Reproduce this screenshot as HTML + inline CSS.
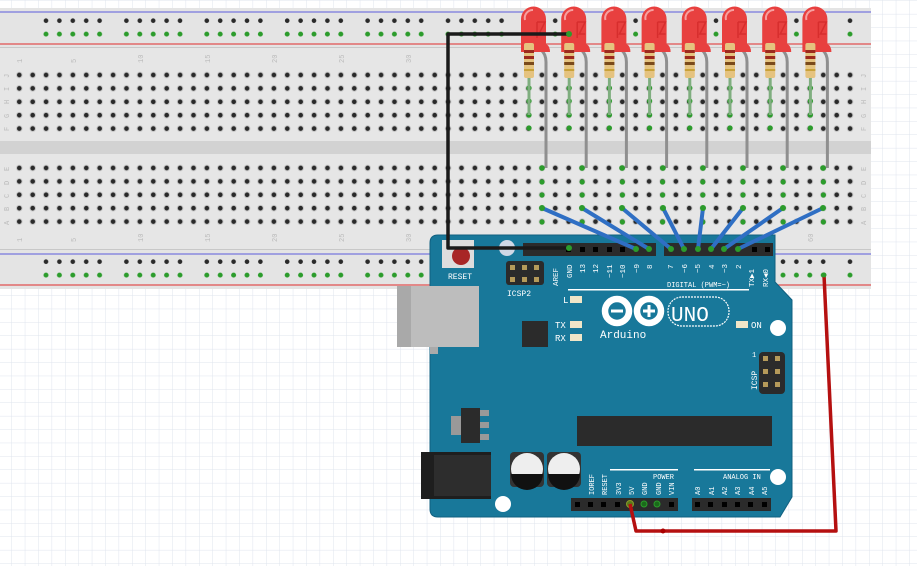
<!DOCTYPE html>
<html><head><meta charset="utf-8"><style>
html,body{margin:0;padding:0;background:#fff}
svg{display:block}
text{font-family:"Liberation Mono","DejaVu Sans Mono",monospace}
</style></head><body>
<svg width="917" height="566" viewBox="0 0 917 566" xmlns="http://www.w3.org/2000/svg">
<defs>
<pattern id="grid" x="-1.5" y="1" width="13.4" height="13.4" patternUnits="userSpaceOnUse">
<path d="M13.4 0V13.4M0 13.4H13.4" stroke="#dfe4ee" stroke-width="1" fill="none"/>
</pattern>
<pattern id="holes" x="12.6" y="68.3" width="13.4" height="13.4" patternUnits="userSpaceOnUse">
<circle cx="6.7" cy="6.7" r="3.3" fill="#c8c8c8"/><circle cx="6.7" cy="6.7" r="2.3" fill="#2a2a2a"/>
</pattern>
<pattern id="holes2" x="12.6" y="161.3" width="13.4" height="13.4" patternUnits="userSpaceOnUse">
<circle cx="6.7" cy="6.7" r="3.3" fill="#c8c8c8"/><circle cx="6.7" cy="6.7" r="2.3" fill="#2a2a2a"/>
</pattern>
<pattern id="railD" x="39.3" y="14" width="80.4" height="13.4" patternUnits="userSpaceOnUse">
<g fill="#2a2a2a"><circle cx="6.7" cy="6.7" r="2.3"/><circle cx="20.1" cy="6.7" r="2.3"/><circle cx="33.5" cy="6.7" r="2.3"/><circle cx="46.9" cy="6.7" r="2.3"/><circle cx="60.3" cy="6.7" r="2.3"/></g>
</pattern>
<pattern id="railG" x="39.3" y="27.4" width="80.4" height="13.4" patternUnits="userSpaceOnUse">
<g fill="#2c9c2c"><circle cx="6.7" cy="6.7" r="2.5"/><circle cx="20.1" cy="6.7" r="2.5"/><circle cx="33.5" cy="6.7" r="2.5"/><circle cx="46.9" cy="6.7" r="2.5"/><circle cx="60.3" cy="6.7" r="2.5"/></g>
</pattern>
<pattern id="railD2" x="39.3" y="255" width="80.4" height="13.4" patternUnits="userSpaceOnUse">
<g fill="#2a2a2a"><circle cx="6.7" cy="6.7" r="2.3"/><circle cx="20.1" cy="6.7" r="2.3"/><circle cx="33.5" cy="6.7" r="2.3"/><circle cx="46.9" cy="6.7" r="2.3"/><circle cx="60.3" cy="6.7" r="2.3"/></g>
</pattern>
<pattern id="railG2" x="39.3" y="268.4" width="80.4" height="13.4" patternUnits="userSpaceOnUse">
<g fill="#2c9c2c"><circle cx="6.7" cy="6.7" r="2.5"/><circle cx="20.1" cy="6.7" r="2.5"/><circle cx="33.5" cy="6.7" r="2.5"/><circle cx="46.9" cy="6.7" r="2.5"/><circle cx="60.3" cy="6.7" r="2.5"/></g>
</pattern>
<g id="led">
<path d="M-3 30 L-4 60" stroke="#999" stroke-width="2" fill="none"/>
<path d="M8 36 Q13 40 13 48 L13 154" stroke="#8f8f8f" stroke-width="3" fill="none"/>
<path d="M-12 36 V5 A12.5 12.5 0 0 1 13 5 V30 Q17 32 17 38 L-12 38 Z" fill="#e8403f"/>
<path d="M-8 6 A8 8 0 0 1 0 -4" stroke="#f6a0a0" stroke-width="2" fill="none"/>
<path d="M4 8 L4 24 M4 8 L12 8 L6 20 L12 20" stroke="#c22" stroke-width="1.5" fill="none" opacity=".6"/>
<rect x="-9" y="29" width="10" height="35" rx="2" fill="#e5c37f"/>
<rect x="-9" y="36" width="10" height="3" fill="#9c2a1e"/>
<rect x="-9" y="42" width="10" height="3" fill="#9c2a1e"/>
<rect x="-9" y="48" width="10" height="3" fill="#7a4a1a"/>
<rect x="-9" y="55" width="10" height="2" fill="#c9a23a"/>
<path d="M-4 64 V101" stroke="#7fae7f" stroke-width="3"/>
</g>
</defs>
<rect width="917" height="566" fill="#fff"/>
<rect width="917" height="566" fill="url(#grid)"/>

<!-- breadboard -->
<rect x="0" y="8" width="871" height="281" fill="#dcdcdc"/>
<rect x="0" y="48" width="871" height="202" fill="#e6e6e6"/>
<rect x="0" y="141" width="871" height="13" fill="#d2d2d2"/>
<rect x="0" y="8" width="871" height="40" fill="#e4e4e4"/>
<rect x="0" y="250" width="871" height="39" fill="#e4e4e4"/>
<line x1="0" y1="12" x2="871" y2="12" stroke="#7777dd" stroke-width="1.2"/>
<line x1="0" y1="44" x2="871" y2="44" stroke="#e05050" stroke-width="1.2"/>
<line x1="0" y1="254" x2="871" y2="254" stroke="#7777dd" stroke-width="1.2"/>
<line x1="0" y1="285" x2="871" y2="285" stroke="#e05050" stroke-width="1.2"/>
<rect x="0" y="47" width="871" height="1" fill="#c8c8c8"/>
<rect x="0" y="249" width="871" height="1" fill="#c8c8c8"/>
<rect x="12.6" y="68.3" width="844.2" height="67" fill="url(#holes)"/>
<rect x="12.6" y="161.3" width="844.2" height="67" fill="url(#holes2)"/>
<rect x="39.3" y="14" width="820" height="13.4" fill="url(#railD)"/>
<rect x="39.3" y="27.4" width="820" height="13.4" fill="url(#railG)"/>
<rect x="39.3" y="255" width="820" height="13.4" fill="url(#railD2)"/>
<rect x="39.3" y="268.4" width="820" height="13.4" fill="url(#railG2)"/>
<g fill="#bbb" font-size="7">
<text transform="translate(22,63) rotate(-90)">1</text><text transform="translate(76,63) rotate(-90)">5</text><text transform="translate(143,63) rotate(-90)">10</text><text transform="translate(210,63) rotate(-90)">15</text><text transform="translate(277,63) rotate(-90)">20</text><text transform="translate(344,63) rotate(-90)">25</text><text transform="translate(411,63) rotate(-90)">30</text>
<text transform="translate(22,242) rotate(-90)">1</text><text transform="translate(76,242) rotate(-90)">5</text><text transform="translate(143,242) rotate(-90)">10</text><text transform="translate(210,242) rotate(-90)">15</text><text transform="translate(277,242) rotate(-90)">20</text><text transform="translate(344,242) rotate(-90)">25</text><text transform="translate(411,242) rotate(-90)">30</text><text transform="translate(813,242) rotate(-90)">60</text>
<text transform="translate(9,78) rotate(-90)">J</text><text transform="translate(9,91) rotate(-90)">I</text><text transform="translate(9,104) rotate(-90)">H</text><text transform="translate(9,118) rotate(-90)">G</text><text transform="translate(9,131) rotate(-90)">F</text>
<text transform="translate(9,171) rotate(-90)">E</text><text transform="translate(9,185) rotate(-90)">D</text><text transform="translate(9,198) rotate(-90)">C</text><text transform="translate(9,211) rotate(-90)">B</text><text transform="translate(9,225) rotate(-90)">A</text>
<text transform="translate(866,78) rotate(-90)">J</text><text transform="translate(866,91) rotate(-90)">I</text><text transform="translate(866,104) rotate(-90)">H</text><text transform="translate(866,118) rotate(-90)">G</text><text transform="translate(866,131) rotate(-90)">F</text>
<text transform="translate(866,171) rotate(-90)">E</text><text transform="translate(866,185) rotate(-90)">D</text><text transform="translate(866,198) rotate(-90)">C</text><text transform="translate(866,211) rotate(-90)">B</text><text transform="translate(866,225) rotate(-90)">A</text>
</g>
<g fill="#2c9c2c">
<g id="gc"><circle cx="542" cy="168" r="2.6"/><circle cx="542" cy="182" r="2.6"/><circle cx="542" cy="195" r="2.6"/><circle cx="542" cy="222" r="2.6"/><circle cx="529" cy="128" r="2.6"/><circle cx="529" cy="88" r="2.6"/><circle cx="529" cy="101" r="2.6"/><circle cx="529" cy="115" r="2.6"/></g>
<use href="#gc" x="40.2"/><use href="#gc" x="80.4"/><use href="#gc" x="120.6"/><use href="#gc" x="160.8"/><use href="#gc" x="201"/><use href="#gc" x="241.2"/><use href="#gc" x="281.4"/>
</g>

<!-- Arduino -->
<path d="M438 235 L775 235 L775 282 L792 300 L792 497 L780 517 L438 517 Q430 517 430 509 L430 243 Q430 235 438 235 Z" fill="#18789a" stroke="#116080" stroke-width="1"/>
<rect x="430" y="347" width="8" height="7" fill="#aaa"/>
<rect x="397" y="286" width="82" height="61" fill="#bdbdbd"/>
<rect x="397" y="286" width="14" height="61" fill="#a9a9a9"/>
<!-- reset -->
<rect x="442" y="240" width="32" height="28" fill="#ddd"/>
<circle cx="461" cy="256" r="9" fill="#a82626"/>
<text x="448" y="279" font-size="8" fill="#fff">RESET</text>
<circle cx="507" cy="248" r="8" fill="#cfd8e6"/>
<!-- ICSP2 -->
<rect x="506" y="261" width="38" height="24" rx="3" fill="#2b2b2b"/>
<g fill="#b59a5a"><rect x="510" y="265" width="5" height="5"/><rect x="522" y="265" width="5" height="5"/><rect x="534" y="265" width="5" height="5"/><rect x="510" y="277" width="5" height="5"/><rect x="522" y="277" width="5" height="5"/><rect x="534" y="277" width="5" height="5"/></g>
<text x="507" y="296" font-size="8" fill="#fff">ICSP2</text>
<!-- top headers -->
<rect x="523" y="243" width="133" height="13" fill="#2b2b2b"/>
<rect x="664" y="243" width="109" height="13" fill="#2b2b2b"/>
<g fill="#000"><rect x="566" y="247" width="5" height="5"/><rect x="580" y="247" width="5" height="5"/><rect x="593" y="247" width="5" height="5"/><rect x="607" y="247" width="5" height="5"/><rect x="620" y="247" width="5" height="5"/><rect x="752" y="247" width="5" height="5"/><rect x="765" y="247" width="5" height="5"/></g>
<g fill="#fff" font-size="7.5">
<text transform="translate(558,286) rotate(-90)">AREF</text><text transform="translate(572,278) rotate(-90)">GND</text><text transform="translate(585,273) rotate(-90)">13</text><text transform="translate(598,273) rotate(-90)">12</text><text transform="translate(612,278) rotate(-90)">~11</text><text transform="translate(625,278) rotate(-90)">~10</text><text transform="translate(639,273) rotate(-90)">~9</text><text transform="translate(652,269) rotate(-90)">8</text>
<text transform="translate(673,269) rotate(-90)">7</text><text transform="translate(687,273) rotate(-90)">~6</text><text transform="translate(700,273) rotate(-90)">~5</text><text transform="translate(714,269) rotate(-90)">4</text><text transform="translate(727,273) rotate(-90)">~3</text><text transform="translate(741,269) rotate(-90)">2</text><text transform="translate(754,287) rotate(-90)">TX▶1</text><text transform="translate(768,287) rotate(-90)">RX◀0</text>
<text x="667" y="287" font-size="7">DIGITAL (PWM=~)</text>
</g>
<rect x="568" y="289" width="181" height="1.5" fill="#fff"/>
<g font-size="9" fill="#fff"><text x="563" y="303">L</text><text x="555" y="328">TX</text><text x="555" y="341">RX</text><text x="751" y="328">ON</text></g>
<g fill="#f0e6c8"><rect x="570" y="296" width="12" height="7"/><rect x="570" y="321" width="12" height="7"/><rect x="570" y="334" width="12" height="7"/><rect x="736" y="321" width="12" height="7"/></g>
<rect x="522" y="321" width="26" height="26" fill="#2b2b2b"/>
<!-- logo -->
<g fill="none" stroke="#fff" stroke-width="6.5"><circle cx="617" cy="311" r="12"/><circle cx="649" cy="311" r="12"/></g>
<g stroke="#fff" stroke-width="3"><line x1="611" y1="311" x2="623" y2="311"/><line x1="643" y1="311" x2="655" y2="311"/><line x1="649" y1="305" x2="649" y2="317"/></g>
<text x="600" y="338" font-size="11" fill="#fff">Arduino</text>
<rect x="668" y="297" width="61" height="29" rx="14" fill="none" stroke="#fff" stroke-width="1.2" stroke-dasharray="2 1"/>
<text x="671" y="321" font-size="21" fill="#fff" font-family="Liberation Sans,sans-serif">UNO</text>
<circle cx="778" cy="328" r="8" fill="#fff"/>
<!-- ICSP -->
<rect x="759" y="352" width="26" height="42" rx="4" fill="#2b2b2b"/>
<g fill="#b59a5a"><rect x="763" y="356" width="5" height="5"/><rect x="775" y="356" width="5" height="5"/><rect x="763" y="369" width="5" height="5"/><rect x="775" y="369" width="5" height="5"/><rect x="763" y="382" width="5" height="5"/><rect x="775" y="382" width="5" height="5"/></g>
<text transform="translate(757,390) rotate(-90)" font-size="8" fill="#fff">ICSP</text>
<text x="752" y="357" font-size="7" fill="#fff">1</text>
<!-- chips -->
<rect x="577" y="416" width="195" height="30" fill="#2b2b2b"/>
<rect x="451" y="416" width="10" height="19" fill="#999"/>
<rect x="480" y="410" width="9" height="6" fill="#999"/><rect x="480" y="422" width="9" height="6" fill="#999"/><rect x="480" y="434" width="9" height="6" fill="#999"/>
<rect x="461" y="408" width="19" height="35" fill="#2b2b2b"/>
<!-- power jack -->
<rect x="421" y="452" width="70" height="47" fill="#1e1e1e"/>
<rect x="434" y="455" width="57" height="41" fill="#2d2d2d"/>
<!-- caps -->
<rect x="510" y="452" width="34" height="35" rx="4" fill="#333"/>
<rect x="547" y="452" width="34" height="35" rx="4" fill="#333"/>
<circle cx="527" cy="469" r="16" fill="#eee"/><circle cx="564" cy="469" r="16" fill="#eee"/>
<path d="M511 474 H543 A16 16 0 0 1 511 474 Z" fill="#111"/>
<path d="M548 474 H580 A16 16 0 0 1 548 474 Z" fill="#111"/>
<circle cx="503" cy="504" r="8" fill="#fff"/>
<circle cx="778" cy="477" r="8" fill="#fff"/>
<!-- bottom headers -->
<rect x="571" y="498" width="107" height="13" fill="#2b2b2b"/>
<rect x="692" y="498" width="79" height="13" fill="#2b2b2b"/>
<g fill="#000"><rect x="575" y="502" width="5" height="5"/><rect x="588" y="502" width="5" height="5"/><rect x="601" y="502" width="5" height="5"/><rect x="615" y="502" width="5" height="5"/><rect x="669" y="502" width="5" height="5"/>
<rect x="695" y="502" width="5" height="5"/><rect x="708" y="502" width="5" height="5"/><rect x="722" y="502" width="5" height="5"/><rect x="735" y="502" width="5" height="5"/><rect x="748" y="502" width="5" height="5"/><rect x="762" y="502" width="5" height="5"/></g>
<circle cx="644" cy="504" r="3" fill="#1a6a1a" stroke="#2c9c2c"/><circle cx="657" cy="504" r="3" fill="#1a6a1a" stroke="#2c9c2c"/>
<circle cx="630" cy="504" r="3.5" fill="#5a7a1a" stroke="#8a9a2a"/>
<rect x="610" y="469" width="68" height="1.5" fill="#fff"/><rect x="694" y="469" width="76" height="1.5" fill="#fff"/>
<g fill="#fff" font-size="7">
<text x="653" y="479">POWER</text><text x="723" y="479">ANALOG IN</text>
<text transform="translate(594,495) rotate(-90)">IOREF</text><text transform="translate(607,495) rotate(-90)">RESET</text><text transform="translate(621,495) rotate(-90)">3V3</text><text transform="translate(634,495) rotate(-90)">5V</text><text transform="translate(647,495) rotate(-90)">GND</text><text transform="translate(661,495) rotate(-90)">GND</text><text transform="translate(674,495) rotate(-90)">VIN</text>
<text transform="translate(700,495) rotate(-90)">A0</text><text transform="translate(714,495) rotate(-90)">A1</text><text transform="translate(727,495) rotate(-90)">A2</text><text transform="translate(740,495) rotate(-90)">A3</text><text transform="translate(754,495) rotate(-90)">A4</text><text transform="translate(767,495) rotate(-90)">A5</text>
</g>

<!-- LEDs -->
<use href="#led" x="533" y="14"/><use href="#led" x="573.2" y="14"/><use href="#led" x="613.4" y="14"/><use href="#led" x="653.6" y="14"/><use href="#led" x="693.8" y="14"/><use href="#led" x="734" y="14"/><use href="#led" x="774.2" y="14"/><use href="#led" x="814.4" y="14"/>
<g fill="#2c9c2c"><circle cx="542" cy="168" r="2.8"/><circle cx="582" cy="168" r="2.8"/><circle cx="622" cy="168" r="2.8"/><circle cx="663" cy="168" r="2.8"/><circle cx="703" cy="168" r="2.8"/><circle cx="743" cy="168" r="2.8"/><circle cx="783" cy="168" r="2.8"/><circle cx="823" cy="168" r="2.8"/></g>

<!-- blue wires -->
<g stroke="#2f6fc4" stroke-width="4" stroke-linecap="round">
<line x1="542" y1="208" x2="636" y2="249"/><line x1="582" y1="208" x2="649" y2="249"/><line x1="622" y1="208" x2="671" y2="249"/><line x1="663" y1="208" x2="684" y2="249"/><line x1="703" y1="208" x2="698" y2="249"/><line x1="743" y1="208" x2="711" y2="249"/><line x1="783" y1="208" x2="724" y2="249"/><line x1="823" y1="208" x2="738" y2="249"/>
</g>
<g fill="#2c9c2c"><circle cx="636" cy="249" r="3"/><circle cx="649" cy="249" r="3"/><circle cx="671" cy="249" r="3"/><circle cx="684" cy="249" r="3"/><circle cx="698" cy="249" r="3"/><circle cx="711" cy="249" r="3"/><circle cx="724" cy="249" r="3"/><circle cx="738" cy="249" r="3"/>
<circle cx="542" cy="208" r="3"/><circle cx="582" cy="208" r="3"/><circle cx="622" cy="208" r="3"/><circle cx="663" cy="208" r="3"/><circle cx="703" cy="208" r="3"/><circle cx="743" cy="208" r="3"/><circle cx="783" cy="208" r="3"/><circle cx="823" cy="208" r="3"/></g>

<!-- black wire -->
<path d="M569 34 H448 V248 H569" fill="none" stroke="#1a1a1a" stroke-width="3.5" stroke-linejoin="round"/>
<circle cx="569" cy="34" r="3" fill="#2c9c2c"/><circle cx="569" cy="248" r="3" fill="#2c9c2c"/>

<!-- red wire -->
<path d="M630 504 L636 531 L836 531 L824 275" fill="none" stroke="#b51010" stroke-width="3.5" stroke-linejoin="round"/>
<circle cx="824" cy="275" r="2.5" fill="#2c9c2c"/>
<circle cx="663" cy="531" r="2.5" fill="#a00"/>
</svg>
</body></html>
